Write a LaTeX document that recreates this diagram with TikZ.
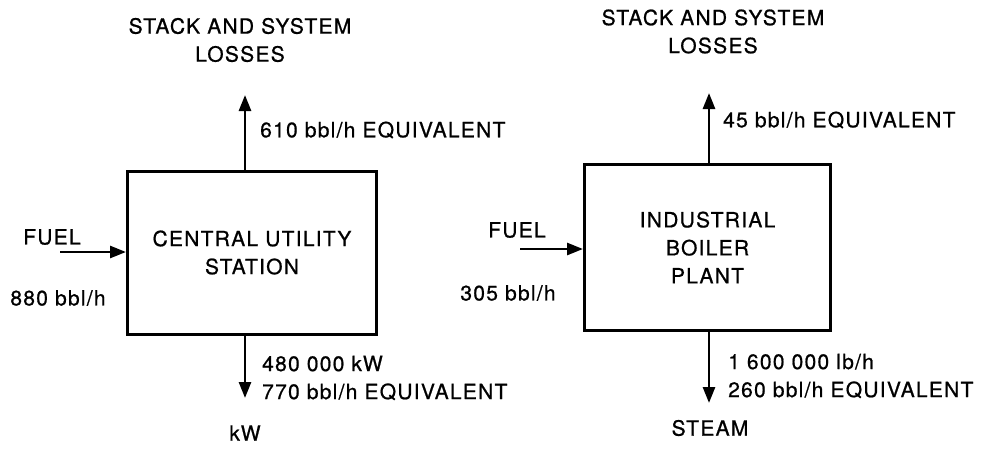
\documentclass[tikz,border=0pt]{standalone}
\usepackage{fontspec}
\setmainfont[LetterSpace=6,FakeBold=0.8]{TeX Gyre Heros}
\usetikzlibrary{arrows.meta,positioning}

\begin{document}
\begin{tikzpicture}[x=1pt, y=-1pt,
  every node/.style={font=\fontsize{21}{28}\selectfont, align=center, inner sep=0pt},
  plant/.style={draw, line width=3pt, minimum width=249pt, minimum height=163pt},
  flow/.style={line width=2.7pt, -{Triangle[length=16pt,width=12pt]}}]
  \useasboundingbox (0,0) rectangle (987,451);
  % central utility station
  \node[plant] (cus) at (252,252.5) {CENTRAL UTILITY\\STATION};
  \node (loss1) at (240,40) {STACK AND SYSTEM\\LOSSES};
  \node[anchor=west] (eq1) at (260,130) {610 bbl/h EQUIVALENT};
  \node (fuel1) at (52,237) {FUEL};
  \node (in1) at (58,298) {880 bbl/h};
  \node[anchor=west, align=left] (out1) at (262,378) {480 000 kW\\770 bbl/h EQUIVALENT};
  \node (kw) at (245,433) {kW};
  \coordinate (top1) at (245,95);
  \coordinate (bot1) at (245,398);
  \coordinate (src1) at (60,252);
  \draw[flow] (cus.north -| top1) -- (top1);
  \draw[flow] (cus.south -| bot1) -- (bot1);
  \draw[flow] (src1) -- (src1 -| cus.west);
  % industrial boiler plant
  \node[plant, minimum width=246pt, minimum height=166pt] (ibp) at (707.5,247.5) {INDUSTRIAL\\BOILER\\PLANT};
  \node (loss2) at (713,31.5) {STACK AND SYSTEM\\LOSSES};
  \node[anchor=west] (eq2) at (723,120) {45 bbl/h EQUIVALENT};
  \node (fuel2) at (517,230) {FUEL};
  \node (in2) at (508,293) {305 bbl/h};
  \node[anchor=west, align=left] (out2) at (728,376) {1 600 000 lb/h\\260 bbl/h EQUIVALENT};
  \node (steam) at (710,428) {STEAM};
  \coordinate (top2) at (709,93);
  \coordinate (bot2) at (709,403);
  \coordinate (src2) at (520,249);
  \draw[flow] (ibp.north -| top2) -- (top2);
  \draw[flow] (ibp.south -| bot2) -- (bot2);
  \draw[flow] (src2) -- (src2 -| ibp.west);
\end{tikzpicture}
\end{document}
